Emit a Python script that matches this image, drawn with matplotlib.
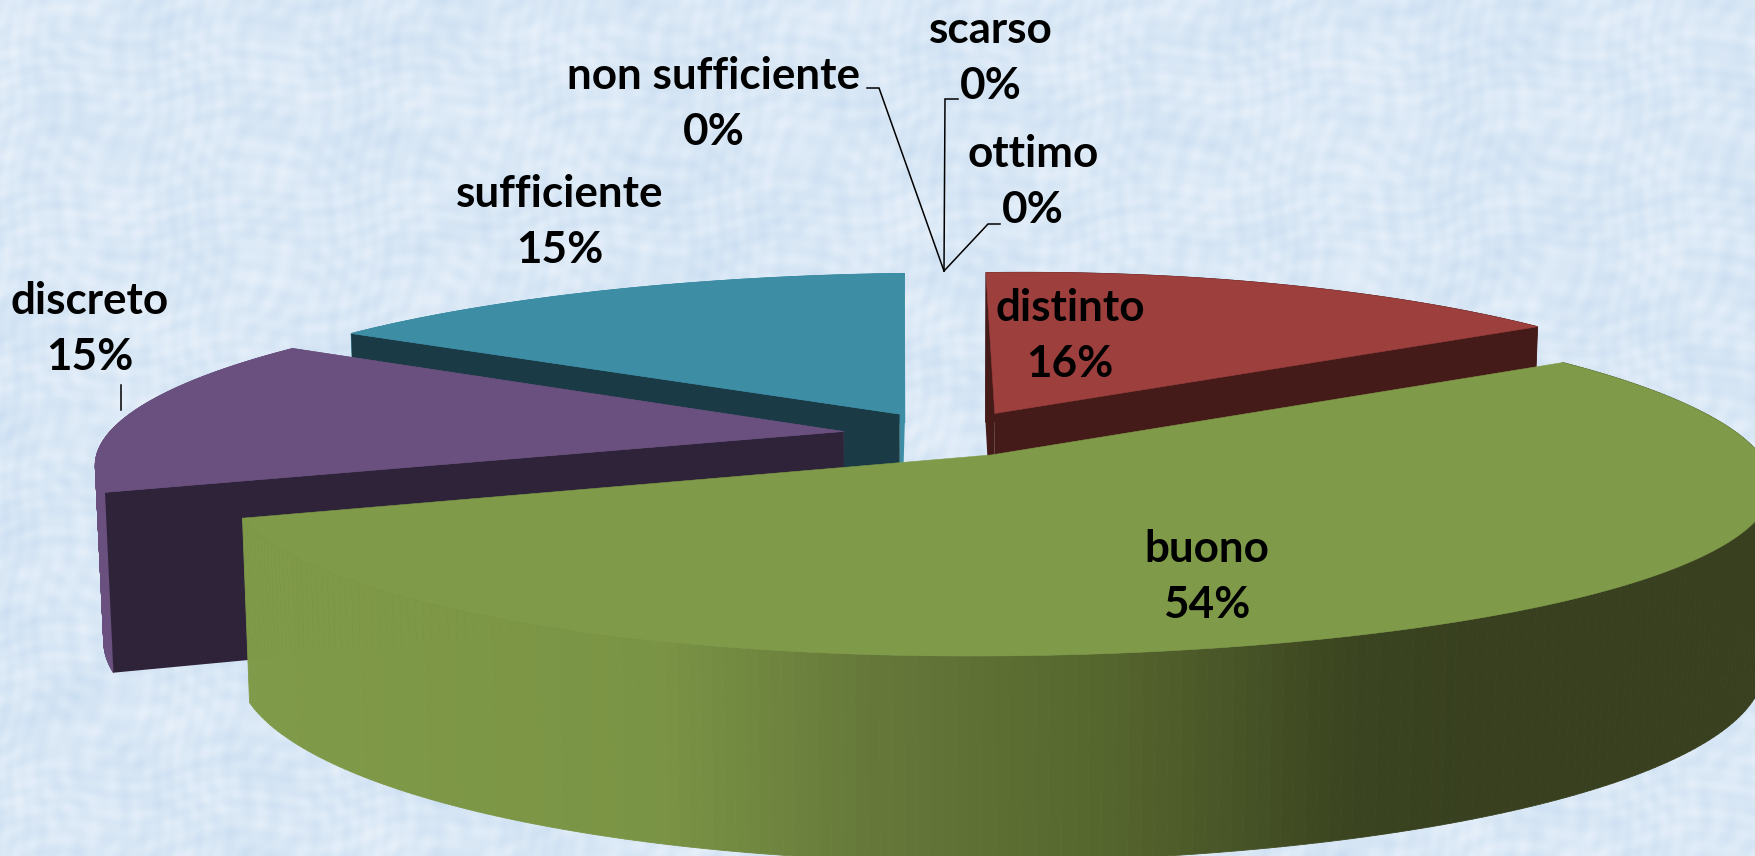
import numpy as np
import matplotlib
matplotlib.use("Agg")
import matplotlib.pyplot as plt
from matplotlib.patches import Polygon
from matplotlib.collections import PolyCollection
from matplotlib.colors import LinearSegmentedColormap

# ---- data (clockwise from 12 o'clock)
categories = ["ottimo", "distinto", "buono", "discreto", "sufficiente", "non sufficiente", "scarso"]
values = [0, 16, 54, 15, 15, 0, 0]

top_colors = {"distinto": "#9C3F3D", "buono": "#7F9A48", "discreto": "#69507F", "sufficiente": "#3D8DA5"}
cut_colors = {"distinto": "#451B19", "discreto": "#2E2338", "sufficiente": "#1A3A45"}
wall_colors = {"distinto": "#451B19", "discreto": "#69507F", "sufficiente": "#3D8DA5"}
draw_order = ["sufficiente", "distinto", "discreto", "buono"]

label_centres = {
    "scarso": (991, 58), "non sufficiente": (714, 104), "ottimo": (1033, 182),
    "sufficiente": (560, 222), "discreto": (90, 329), "distinto": (1070, 336), "buono": (1207, 577),
}
leaders = [
    [(867, 88), (879, 88), (944, 271)],
    [(958, 99), (945, 99), (944, 271)],
    [(1000, 224), (988, 224), (944, 271)],
    [(121, 385), (121, 410)],
]

# ---- 3-D pie projection
CX, CY, AX_R, AY_R, DEPTH, PERSP, PERSP_X, EXPLODE = 946, 434, 742, 166, 173, 0.141, 0.17, 0.14
SKEW, TILT = 28, 8


def project(x, y, drop=False):
    x, y = np.asarray(x, float), np.asarray(y, float)
    s = 1 / (1 + PERSP * y)
    px = AX_R * x / (1 + PERSP_X * y) - SKEW * y * np.abs(x)
    py = CY - AY_R * y * s - TILT * x
    if drop:
        return CX + px * 0.99, py + DEPTH * s
    return CX + px, py


fig = plt.figure(figsize=(17.55, 8.56), dpi=100)
ax = fig.add_axes([0, 0, 1, 1])
ax.set_xlim(0, 1755)
ax.set_ylim(856, 0)
ax.axis("off")

# mottled paper background
xx, yy = np.meshgrid(np.arange(0, 1755, 2), np.arange(0, 856, 2))
tex = (np.sin(xx / 9 + 2.2 * np.sin(yy / 17)) * np.sin(yy / 8 + 2.2 * np.sin(xx / 21))
       + 0.8 * np.sin((xx + yy) / 5 + 3 * np.sin(xx / 29)) * np.sin((xx - yy) / 6 + 2 * np.sin(yy / 23))
       + 0.7 * np.sin(xx / 43 + 1.7 * np.sin(yy / 37)) * np.sin(yy / 31 + 1.3 * np.sin(xx / 59)))
bg_cmap = LinearSegmentedColormap.from_list("bg", ["#CBDFF2", "#DAE8F6", "#E8F1FA"])
ax.imshow(tex, extent=(0, 1755, 856, 0), cmap=bg_cmap, aspect="auto", zorder=0, interpolation="bilinear")

wall_cmap = LinearSegmentedColormap.from_list(
    "wall", [(0, "#7F9A48"), (0.33, "#7A9445"), (0.5, "#66793A"), (0.7, "#56662E"), (0.9, "#3B4520"), (1, "#38401F")])

total = sum(values)
start = 0.0
spans = {}
for name, v in zip(categories, values):
    spans[name] = (start, start + v / total * 2 * np.pi)
    start = spans[name][1]

near_index = {"sufficiente": 0, "discreto": 0, "distinto": -1}
z = 2
for name in draw_order:
    a0, a1 = spans[name]
    mid = (a0 + a1) / 2
    ox, oy = EXPLODE * np.sin(mid), EXPLODE * np.cos(mid)
    th = np.linspace(a0, a1, 240)
    rx, ry = np.sin(th) + ox, np.cos(th) + oy
    X, Y = project(rx, ry)
    Xb, Yb = project(rx, ry, True)
    ap = project(ox, oy)
    apb = project(ox, oy, True)

    # outer rounded wall
    quads = [[(X[i], Y[i]), (X[i + 1], Y[i + 1]), (Xb[i + 1], Yb[i + 1]), (Xb[i], Yb[i])] for i in range(len(th) - 1)]
    if name == "buono":
        cols = wall_cmap(np.clip(((X[:-1] + X[1:]) / 2 - 255) / (1470 - 255), 0, 1))
    else:
        cols = [wall_colors[name]] * len(quads)
    ax.add_collection(PolyCollection(quads, facecolors=cols, edgecolors=cols, linewidths=0.6, zorder=z))
    z += 1
    # cut faces: far one first (thin sliver), then the one facing the viewer
    if name != "buono":
        near = near_index[name]
        far = -1 if near == 0 else 0
        ax.add_patch(Polygon([(X[far], Y[far]), ap, apb, (Xb[far], Yb[far])], closed=True,
                             fc=wall_colors[name], ec="none", zorder=z))
        z += 1
        ax.add_patch(Polygon([(X[near], Y[near]), ap, apb, (Xb[near], Yb[near])], closed=True,
                             fc=cut_colors[name], ec="none", zorder=z))
        z += 1
    # top face
    ax.add_patch(Polygon(np.column_stack([np.r_[ap[0], X], np.r_[ap[1], Y]]), closed=True,
                         fc=top_colors[name], ec=top_colors[name], lw=0.4, zorder=z))
    z += 1

for pts in leaders:
    ax.plot(*zip(*pts), color="black", lw=1.1, zorder=50, solid_joinstyle="miter")

for name, v in zip(categories, values):
    cx, cy = label_centres[name]
    ax.text(cx, cy, f"{name}\n{v}%", family=["Lato", "DejaVu Sans"], weight="bold", fontsize=31.7,
            ha="center", va="center", linespacing=1.5, color="black", zorder=60)

fig.savefig("out.png", dpi=100)
